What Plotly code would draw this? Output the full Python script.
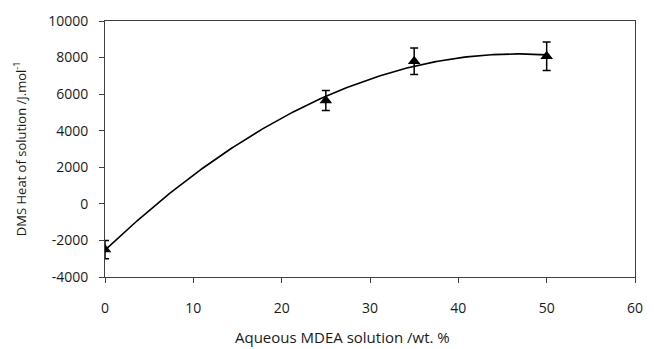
import numpy as np
import plotly.graph_objects as go

# Data
mdea_wt = [0, 25, 35, 50]
heat_solution = [-2500, 5650, 7800, 8070]
heat_error = [500, 550, 730, 780]

x_ticks = [0, 10, 20, 30, 40, 50, 60]
y_ticks = [-4000, -2000, 0, 2000, 4000, 6000, 8000, 10000]
y_tick_labels = ["-4000", "-2000", "0", "2000", "4000", "6000", "8000", "10000"]

# Second-order polynomial trend line fitted to the data (as in the original)
coef = np.polyfit(mdea_wt, heat_solution, 2)
x_fit = np.linspace(min(mdea_wt), max(mdea_wt), 200)
y_fit = np.polyval(coef, x_fit)

FONT = "Open Sans"
TXT = "#1a1a1a"
AX = "#404040"

fig = go.Figure()
fig.add_trace(go.Scatter(x=x_fit, y=y_fit, mode="lines",
                         line=dict(color="black", width=1.6),
                         hoverinfo="skip", showlegend=False))
fig.add_trace(go.Scatter(x=mdea_wt, y=heat_solution, mode="markers",
                         marker=dict(symbol="triangle-up", size=11, color="black"),
                         error_y=dict(type="data", array=heat_error, visible=True,
                                      color="black", thickness=1.5, width=4),
                         showlegend=False))

fig.update_layout(
    width=654, height=349,
    margin=dict(l=105, r=11, t=16, b=72),
    paper_bgcolor="white", plot_bgcolor="white",
    font=dict(family=FONT, size=14, color=TXT),
    xaxis=dict(range=[0, 60], tickvals=x_ticks, showgrid=False, zeroline=False,
               showline=True, linecolor=AX, linewidth=1, mirror=True,
               ticks="outside", ticklen=5, tickcolor=AX, ticklabelstandoff=13,
               tickfont=dict(family=FONT, size=14, color=TXT)),
    yaxis=dict(range=[-4000, 10000], tickvals=y_ticks, ticktext=y_tick_labels,
               showgrid=False, zeroline=False,
               showline=True, linecolor=AX, linewidth=1, mirror=True,
               ticks="outside", ticklen=5, tickcolor=AX, ticklabelstandoff=8,
               tickfont=dict(family=FONT, size=14, color=TXT)),
    annotations=[
        dict(text="Aqueous MDEA solution /wt. %", xref="paper", yref="paper",
             x=0.448, y=-0.235, xanchor="center", yanchor="middle",
             showarrow=False, font=dict(family=FONT, size=15, color=TXT)),
        dict(text="DMS Heat of solution /J.mol<sup>-1</sup>", xref="paper", yref="paper",
             x=-0.162, y=0.5, xanchor="center", yanchor="middle", textangle=-90,
             showarrow=False, font=dict(family=FONT, size=13, color=TXT)),
    ],
)

fig.write_html("out.html")
